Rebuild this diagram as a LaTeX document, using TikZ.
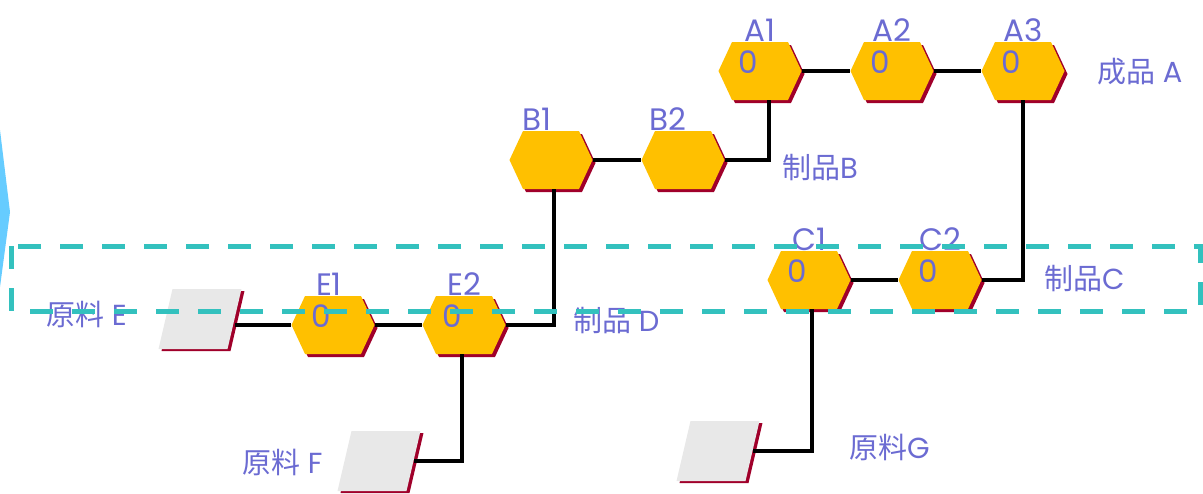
\documentclass[tikz,border=0pt]{standalone}
\usepackage{fontspec}
\setmainfont{Poppins}
\newfontfamily\cjk{Noto Sans CJK SC}
\usepackage{xcolor}
\definecolor{hexcolor}{HTML}{FFC000}
\definecolor{shadecolor}{HTML}{A0002A}
\definecolor{textcolor}{HTML}{6B6BD2}
\definecolor{rawcolor}{HTML}{E8E8E8}
\definecolor{boxcolor}{HTML}{33C1BE}
\definecolor{tipcolor}{HTML}{66CCFF}
\usetikzlibrary{positioning, calc, shapes.symbols, shadows}

\begin{document}
\begin{tikzpicture}[x=1pt, y=1pt,
  hexa/.style={signal, signal to=east and west, signal pointer angle=130,
    fill=hexcolor, minimum width=83pt, minimum height=58pt, inner sep=0pt,
    label distance=6pt,
    drop shadow={shadow xshift=3pt, shadow yshift=-3pt, fill=shadecolor, opacity=1}},
  raw/.style={rectangle, xslant=0.233, transform shape, fill=rawcolor,
    minimum width=69pt, minimum height=60pt, inner sep=0pt,
    drop shadow={shadow xshift=3pt, shadow yshift=-2pt, fill=shadecolor, opacity=1}},
  tag/.style={font=\fontsize{31}{31}\selectfont, text=textcolor, inner sep=0pt},
  zero/.style={label={[tag, xshift=-12pt, yshift=9pt]center:0}},
  part/.style={font=\fontsize{29}{29}\selectfont, text=textcolor, inner sep=0pt, anchor=west},
  link/.style={line width=4.5pt},
]
\useasboundingbox (0,0) rectangle (1203,-493);

% 左侧箭头尖
\fill[tipcolor] (0,-130) -- (10,-212) -- (0,-287) -- cycle;

% 成品 A
\node[hexa, zero, label={[tag]above:A1}] (A1) at (760,-71) {};
\node[hexa, zero, label={[tag]above:A2}] (A2) at (892,-71) {};
\node[hexa, zero, label={[tag]above:A3}] (A3) at (1023,-71) {};
\node[part] (prodA) at (1097,-72) {{\cjk 成品} A};

% 制品 B
\node[hexa, label={[tag, xshift=-14pt]above:B1}] (B1) at (551,-160) {};
\node[hexa, label={[tag, xshift=-15pt]above:B2}] (B2) at (683,-160) {};
\node[part] (wipB) at (782,-168) {{\cjk 制品}B};

% 制品 C
\node[hexa, zero, label={[tag]above:C1}] (C1) at (809,-280) {};
\node[hexa, zero, label={[tag]above:C2}] (C2) at (940,-280) {};
\node[part] (wipC) at (1044,-279) {{\cjk 制品}C};

% 制品 D
\node[hexa, zero, label={[tag, xshift=-4pt]above:E1}] (E1) at (333,-325) {};
\node[hexa, zero, label={[tag]above:E2}] (E2) at (464,-325) {};
\node[part] (wipD) at (573,-321) {{\cjk 制品} D};

% 原料
\node[raw] (rawE) at (200,-319) {};
\node[part] (lblE) at (46,-314) {{\cjk 原料} E};
\node[raw] (rawF) at (379,-461) {};
\node[part] (lblF) at (242,-462) {{\cjk 原料} F};
\node[raw] (rawG) at (718,-451) {};
\node[part] (lblG) at (849,-447) {{\cjk 原料}G};

% 连线
\draw[link] (A1) -- (A2);
\draw[link] (A2) -- (A3);
\draw[link] (B1) -- (B2);
\draw[link] (B2.east) -| ([xshift=9pt]A1.south);
\draw[link] (C1) -- (C2);
\draw[link] (C2.east) -| (A3.south);
\draw[link] ([xshift=3pt]B1.south) |- (E2.east);
\draw[link] (E1) -- (E2);
\draw[link] (E1.west) -- (E1.west -| rawE.east);
\draw[link] ([xshift=-2pt]E2.south) |- (rawF.east);
\draw[link] ([xshift=3pt]C1.south) |- (rawG.east);

% 虚线框
\draw[boxcolor, line width=5pt, dash pattern=on 23pt off 19pt] (11,-246) rectangle (1200,-311);

\end{tikzpicture}
\end{document}
